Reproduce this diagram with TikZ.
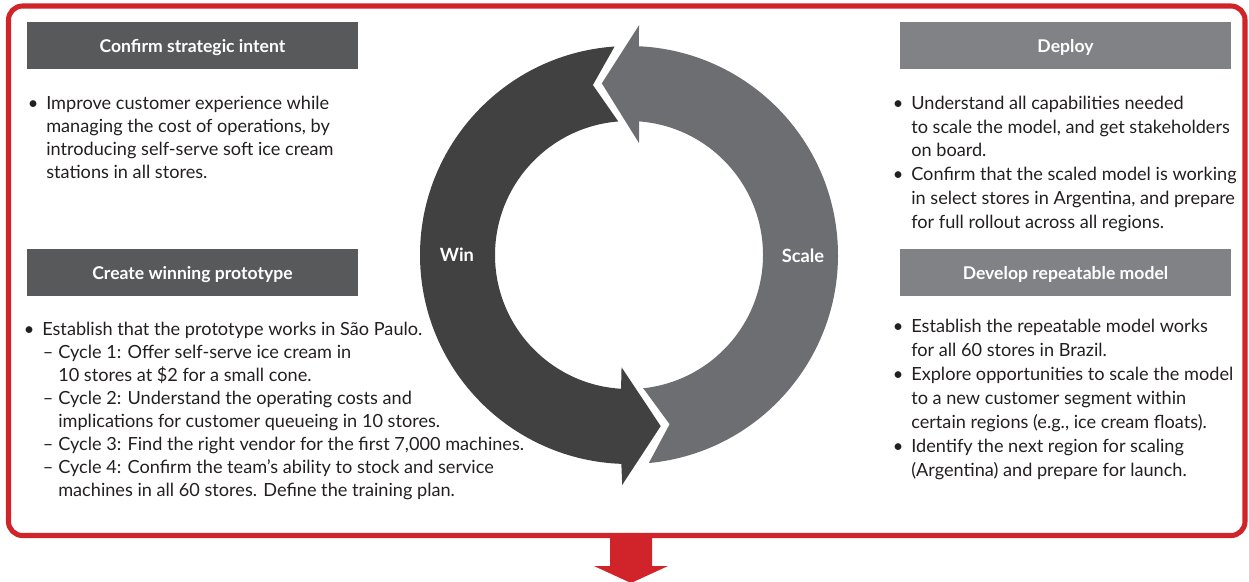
\documentclass[tikz,border=0pt]{standalone}
\usepackage{fontspec}
\setmainfont{Lato}
\usepackage{tikz}
\usepackage{xcolor}
\definecolor{redline}{HTML}{D0232A}
\definecolor{hdark}{HTML}{58595B}
\definecolor{hlight}{HTML}{808285}
\definecolor{wingray}{HTML}{414142}
\definecolor{scalegray}{HTML}{6D6E71}
\definecolor{bodytext}{HTML}{231F20}
\newcommand{\bu}{\llap{\textbullet\hspace{0.2cm}}}
\newcommand{\da}{\hspace*{0.4cm}\llap{\textendash\hspace{0.12cm}}}
\newcommand{\ind}{\hspace*{0.4cm}}
\begin{document}
\begin{tikzpicture}[x=0.025cm,y=-0.025cm,
  hdr/.style={text=white,font=\fontsize{12.5}{15}\selectfont\bfseries,minimum width=8.275cm,minimum height=1.175cm,
    inner sep=0,text height=10pt,text depth=0pt},
  txt/.style={anchor=base west,inner sep=0,text=bodytext,font=\fontsize{12.9}{16}\selectfont},
  lbl/.style={text=white,font=\fontsize{13}{16}\selectfont\bfseries}]
\useasboundingbox (0,0) rectangle (1249,581);
\draw[redline,line width=3.6pt,rounded corners=0.35cm] (8.5,6) rectangle (1245,535.5);
\fill[redline] (610,537) -- (652,537) -- (652,566) -- (668,566) -- (631,583) -- (594,566) -- (610,566) -- cycle;
\node[hdr,fill=hdark] (intent) at (192.5,45.5) {Confirm strategic intent};
\node[hdr,fill=hlight] (deploy) at (1065.5,45.5) {Deploy};
\node[hdr,fill=hdark] (proto) at (192.5,272.5) {Create winning prototype};
\node[hdr,fill=hlight] (model) at (1065.5,272.5) {Develop repeatable model};
\foreach \l [count=\i from 0] in {{\bu Improve customer experience while},
    {managing the cost of operations, by},{introducing self-serve soft ice cream},
    {stations in all stores.}}
  \node[txt] (intent-\i) at (46,109.5+23*\i) {\l};
\foreach \l [count=\i from 0] in {{\bu Understand all capabilities needed},
    {to scale the model, and get stakeholders},{on board.},
    {\bu Confirm that the scaled model is working},
    {in select stores in Argentina, and prepare},{for full rollout across all regions.}}
  \node[txt] (deploy-\i) at (911,109.5+23.7*\i) {\l};
\foreach \l [count=\i from 0] in {{\bu Establish that the prototype works in São Paulo.},
    {\da Cycle 1: Offer self-serve ice cream in},{\ind 10 stores at \$2 for a small cone.},
    {\da Cycle 2: Understand the operating costs and},
    {\ind implications for customer queueing in 10 stores.},
    {\da Cycle 3: Find the right vendor for the first 7,000 machines.},
    {\da Cycle 4: Confirm the team’s ability to stock and service},
    {\ind machines in all 60 stores. Define the training plan.}}
  \node[txt] (proto-\i) at (42,335.5+23*\i) {\l};
\foreach \l [count=\i from 0] in {{\bu Establish the repeatable model works},
    {for all 60 stores in Brazil.},{\bu Explore opportunities to scale the model},
    {to a new customer segment within},{certain regions (e.g., ice cream floats).},
    {\bu Identify the next region for scaling},{(Argentina) and prepare for launch.}}
  \node[txt] (model-\i) at (911,332+24*\i) {\l};
\begin{scope}[shift={(629,255)},y=0.025cm]
\fill[wingray] (93.95:209) arc[start angle=93.95,end angle=267.9,radius=209] -- (268.3:230)
  -- (280.5:174) -- (266.2:112.5) -- (266.6:134) arc[start angle=266.6,end angle=94.6,radius=134]
  -- (102:173.8) -- cycle;
\fill[scalegray] (275.45:209) arc[start angle=275.45,end angle=447.3,radius=209] -- (87.5:230)
  -- (99:173.8) -- (84.9:112.4) -- (85.7:134) arc[start angle=445.7,end angle=276.1,radius=134]
  -- (283.5:174) -- cycle;
\end{scope}
\node[lbl] (win) at (457,255) {Win};
\node[lbl] (scl) at (803,256) {Scale};
\end{tikzpicture}
\end{document}
